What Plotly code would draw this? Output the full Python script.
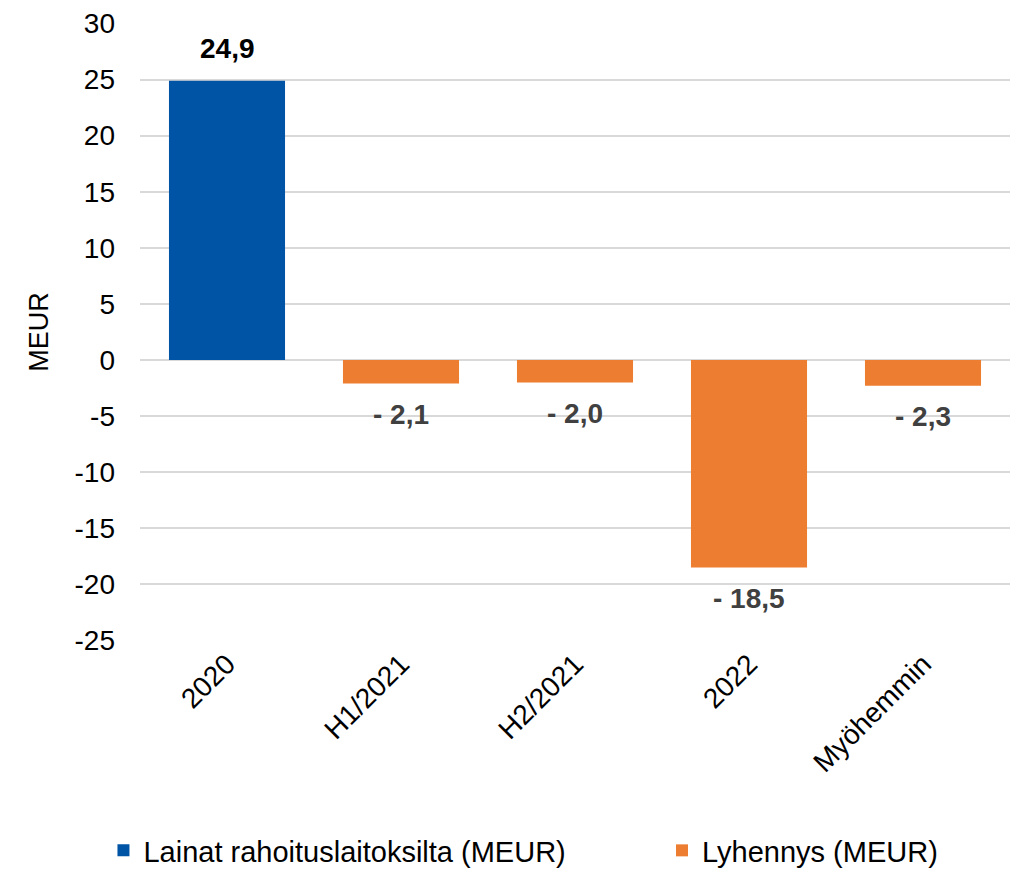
import plotly.graph_objects as go

categories = ["2020", "H1/2021", "H2/2021", "2022", "Myöhemmin"]
lainat = [24.9, None, None, None, None]
lyhennys = [None, -2.1, -2.0, -18.5, -2.3]
y_ticks = [30, 25, 20, 15, 10, 5, 0, -5, -10, -15, -20, -25]
y_ticktext = [str(v) for v in y_ticks]

BLUE = "#0054A6"
ORANGE = "#ED7D31"
FONT = "Liberation Sans, Arial, sans-serif"

fig = go.Figure()
fig.add_trace(go.Bar(x=categories, y=lainat, name="Lainat rahoituslaitoksilta (MEUR)",
                     marker=dict(color=BLUE, line=dict(width=0)), legend="legend"))
fig.add_trace(go.Bar(x=categories, y=lyhennys, name="Lyhennys (MEUR)",
                     marker=dict(color=ORANGE, line=dict(width=0)), legend="legend2"))

def fmt(v):
    s = f"{abs(v):.1f}".replace(".", ",")
    return ("- " + s) if v < 0 else s

annotations = []
for i, v in enumerate(lainat):
    if v is not None:
        annotations.append(dict(x=i, y=v, text=f"<b>{fmt(v)}</b>", showarrow=False,
                                yshift=32, font=dict(size=28, color="#000000", family=FONT)))
for i, v in enumerate(lyhennys):
    if v is not None:
        annotations.append(dict(x=i, y=v, text=f"<b>{fmt(v)}</b>", showarrow=False,
                                yshift=-31, font=dict(size=28, color="#404040", family=FONT)))

legend_common = dict(orientation="h", yanchor="middle", y=-0.339, xanchor="left",
                     font=dict(size=29, color="#000000"), itemwidth=30,
                     bgcolor="rgba(0,0,0,0)")

fig.update_layout(
    width=1018, height=872,
    margin=dict(l=140, r=8, t=23, b=231, autoexpand=False),
    paper_bgcolor="white", plot_bgcolor="white",
    barmode="relative", bargap=0.333,
    font=dict(family=FONT, size=28, color="#000000"),
    annotations=annotations,
    showlegend=True,
    legend=dict(x=-0.042, **legend_common),
    legend2=dict(x=0.6, **legend_common),
    xaxis=dict(type="category", range=[-0.5, len(categories) - 0.5], tickangle=-45,
               showgrid=False, showline=False, ticks="", automargin=False,
               tickfont=dict(size=28, color="#000000")),
    yaxis=dict(range=[-25.04, 30.04], tickvals=y_ticks, ticktext=y_ticktext,
               showgrid=True, gridcolor="#d9d9d9", gridwidth=1.5,
               zeroline=True, zerolinecolor="#d9d9d9", zerolinewidth=1.5,
               showline=False, ticks="", ticklabelstandoff=24, automargin=False,
               tickfont=dict(size=28, color="#000000"),
               title=dict(text="MEUR", font=dict(size=27, color="#000000"), standoff=18)),
)

fig.write_html("out.html", config={"displayModeBar": False},
               post_script="document.body.style.margin='0';document.body.style.overflow='hidden';")
